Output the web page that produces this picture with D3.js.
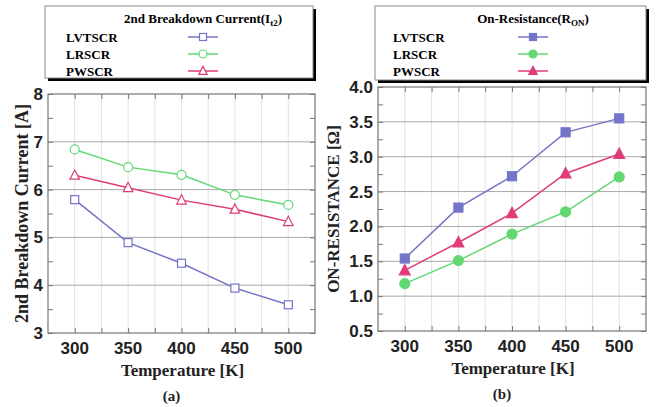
<!DOCTYPE html>
<html>
<head>
<meta charset="utf-8">
<script src="https://cdn.jsdelivr.net/npm/d3@7"></script>
<style>
  body { margin: 0; background: #fff; }
  svg text { font-family: "Liberation Serif", "Times New Roman", serif; font-weight: bold; }
  .tick-lbl { font-family: "Liberation Sans Narrow", "Arial Narrow", "Liberation Sans", Arial, sans-serif; font-weight: bold; }
</style>
</head>
<body>
<div id="chart"></div>
<script>
const temps = [300, 350, 400, 450, 500];
const seriesNames = ["LVTSCR", "LRSCR", "PWSCR"];
const breakdownLV = [5.79, 4.89, 4.46, 3.94, 3.59];
const breakdownLR = [6.84, 6.47, 6.31, 5.89, 5.68];
const breakdownPW = [6.30, 6.04, 5.78, 5.59, 5.33];
const ronLV = [1.54, 2.27, 2.72, 3.35, 3.55];
const ronLR = [1.18, 1.51, 1.89, 2.21, 2.71];
const ronPW = [1.37, 1.77, 2.19, 2.76, 3.04];
const yTicksA = [3, 4, 5, 6, 7, 8];
const yTicksB = [0.5, 1.0, 1.5, 2.0, 2.5, 3.0, 3.5, 4.0];
const xTicks = [300, 350, 400, 450, 500];

const colors = { LVTSCR: "#7474c8", LRSCR: "#62d873", PWSCR: "#e03c7c" };
const shapes = { LVTSCR: "square", LRSCR: "circle", PWSCR: "triangle" };

const svg = d3.select("#chart").append("svg")
  .attr("width", 657).attr("height", 407);

function marker(g, shape, x, y, filled, color, s) {
  const fill = filled ? color : "#fff";
  if (shape === "square") {
    g.append("rect").attr("x", x - s / 2).attr("y", y - s / 2)
      .attr("width", s).attr("height", s)
      .attr("fill", fill).attr("stroke", color).attr("stroke-width", 1.2);
  } else if (shape === "circle") {
    g.append("circle").attr("cx", x).attr("cy", y).attr("r", s / 2 + 0.5)
      .attr("fill", fill).attr("stroke", color).attr("stroke-width", 1.2);
  } else {
    const h = s * 1.1;
    g.append("path")
      .attr("d", `M${x},${y - h * 0.6}L${x + s * 0.6},${y + h * 0.45}L${x - s * 0.6},${y + h * 0.45}Z`)
      .attr("fill", fill).attr("stroke", color).attr("stroke-width", 1.2);
  }
}

function legend(box, title, titleSub, filled) {
  const g = svg.append("g");
  // shadow
  g.append("rect").attr("x", box.x + 3).attr("y", box.y + 3)
    .attr("width", box.w).attr("height", box.h).attr("fill", "#000");
  g.append("rect").attr("x", box.x).attr("y", box.y)
    .attr("width", box.w).attr("height", box.h)
    .attr("fill", "#fff").attr("stroke", "#888").attr("stroke-width", 1);
  const t = g.append("text").attr("x", box.sx).attr("y", box.y + 17)
    .attr("text-anchor", "middle").attr("font-size", 13).text(title);
  t.append("tspan").attr("font-size", 9).attr("dy", 3).text(titleSub);
  t.append("tspan").attr("dy", -3).text(")");
  seriesNames.forEach((name, i) => {
    const y = box.y + 31 + i * 17;
    g.append("text").attr("x", box.lx).attr("y", y + 5)
      .attr("font-size", 13).text(name);
    g.append("line").attr("x1", box.sx - 15).attr("x2", box.sx + 15)
      .attr("y1", y).attr("y2", y)
      .attr("stroke", colors[name]).attr("stroke-width", 1.5);
    marker(g, shapes[name], box.sx, y, filled, colors[name], 7);
  });
}

function panel(opts) {
  const { left, right, top, bottom, yDomain, yTicks, yMinorStep, data, filled, fmt } = opts;
  const g = svg.append("g");
  const x = d3.scaleLinear().domain([275, 525]).range([left, right]);
  const y = d3.scaleLinear().domain(yDomain).range([bottom, top]);

  // vertical gridlines every 25
  const xGrid = d3.range(300, 525, 25);
  g.selectAll(".vg").data(xGrid).enter().append("line")
    .attr("x1", d => x(d)).attr("x2", d => x(d))
    .attr("y1", top).attr("y2", bottom)
    .attr("stroke", "#e2e2e2").attr("stroke-width", 1);
  // horizontal gridlines at major ticks
  g.selectAll(".hg").data(yTicks.slice(1, -1)).enter().append("line")
    .attr("x1", left).attr("x2", right)
    .attr("y1", d => y(d)).attr("y2", d => y(d))
    .attr("stroke", "#a8a8a8").attr("stroke-width", 1);

  // inward ticks via axes
  const minor = d3.range(yDomain[0], yDomain[1] + 1e-9, yMinorStep);
  const axL = d3.axisRight(y).tickValues(minor).tickSize(5).tickFormat("");
  const axR = d3.axisLeft(y).tickValues(minor).tickSize(5).tickFormat("");
  const axB = d3.axisTop(x).tickValues(xGrid).tickSize(5).tickFormat("");
  const axT = d3.axisBottom(x).tickValues(xGrid).tickSize(5).tickFormat("");
  [[axL, `translate(${left},0)`], [axR, `translate(${right},0)`],
   [axB, `translate(0,${bottom})`], [axT, `translate(0,${top})`]].forEach(([ax, tr]) => {
    const a = g.append("g").attr("transform", tr).call(ax);
    a.select(".domain").remove();
    a.selectAll("line").attr("stroke", "#777");
  });

  g.append("rect").attr("x", left).attr("y", top)
    .attr("width", right - left).attr("height", bottom - top)
    .attr("fill", "none").attr("stroke", "#777").attr("stroke-width", 1.2);

  // tick labels
  g.selectAll(".yl").data(yTicks).enter().append("text")
    .attr("class", "tick-lbl")
    .attr("x", left - 5).attr("y", d => y(d) + 6)
    .attr("text-anchor", "end").attr("font-size", 17)
    .attr("fill", "#222").text(d => fmt(d));
  g.selectAll(".xl").data(xTicks).enter().append("text")
    .attr("class", "tick-lbl")
    .attr("x", d => x(d)).attr("y", bottom + 21)
    .attr("text-anchor", "middle").attr("font-size", 17)
    .attr("fill", "#222").text(d => d);

  // series
  const line = d3.line().x((d, i) => x(temps[i])).y(d => y(d));
  seriesNames.forEach((name, si) => {
    g.append("path").datum(data[si])
      .attr("fill", "none").attr("stroke", colors[name]).attr("stroke-width", 1.5)
      .attr("d", line);
    data[si].forEach((v, i) => marker(g, shapes[name], x(temps[i]), y(v), filled, colors[name], filled ? 9 : 8));
  });

  g.append("text").attr("x", (left + right) / 2 + 1).attr("y", bottom + 43)
    .attr("text-anchor", "middle").attr("font-size", 17).attr("fill", "#222")
    .text("Temperature [K]");
  g.append("text").attr("x", (left + right) / 2 - 10).attr("y", bottom + 68)
    .attr("text-anchor", "middle").attr("font-size", 15).attr("fill", "#222")
    .text(opts.tag);
  g.append("text")
    .attr("transform", `translate(${opts.labelX},${(top + bottom) / 2}) rotate(-90)`)
    .attr("text-anchor", "middle").attr("font-size", opts.labelSize).attr("fill", "#222")
    .text(opts.yLabel);
}

panel({
  left: 48, right: 315, top: 94, bottom: 333,
  yDomain: [3, 8], yTicks: yTicksA, yMinorStep: 0.5,
  data: [breakdownLV, breakdownLR, breakdownPW], filled: false,
  fmt: d3.format("d"), tag: "(a)",
  yLabel: "2nd Breakdown Current [A]", labelX: 28, labelSize: 18
});
panel({
  left: 378, right: 646, top: 87, bottom: 331,
  yDomain: [0.5, 4.0], yTicks: yTicksB, yMinorStep: 0.25,
  data: [ronLV, ronLR, ronPW], filled: true,
  fmt: d3.format(".1f"), tag: "(b)",
  yLabel: "ON-RESISTANCE [\u03a9]", labelX: 339, labelSize: 17
});

legend({ x: 45, y: 6, w: 268, h: 72, sx: 203, lx: 66 }, "2nd Breakdown Current(I", "t2", false);
legend({ x: 375, y: 6, w: 271, h: 74, sx: 533, lx: 393 }, "On-Resistance(R", "ON", true);
</script>
</body>
</html>
